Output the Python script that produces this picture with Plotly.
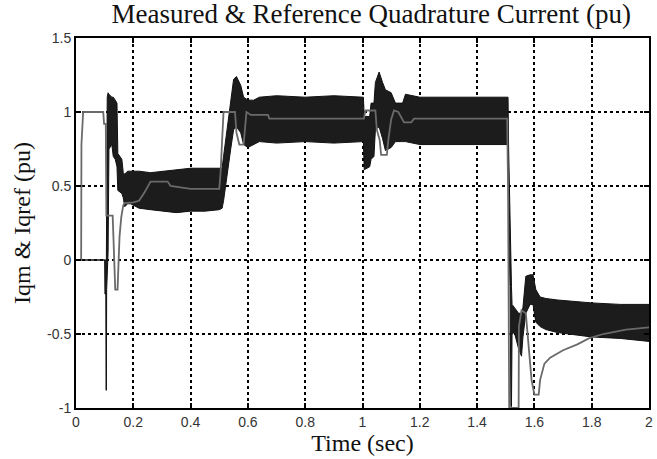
import plotly.graph_objects as go

# Measured quadrature current (Iqm): fast oscillation drawn as its envelope
t_meas = [0.0, 0.100, 0.101, 0.104, 0.105, 0.106, 0.107, 0.109, 0.112, 0.115, 0.125, 0.130,
          0.137, 0.143, 0.146, 0.160, 0.165, 0.170, 0.180, 0.190, 0.220, 0.260, 0.300, 0.350,
          0.400, 0.450, 0.500, 0.510, 0.515, 0.525, 0.540, 0.550, 0.560, 0.575, 0.585, 0.600,
          0.620, 0.640, 0.700, 0.800, 0.900, 1.003, 1.006, 1.025, 1.030, 1.040, 1.045, 1.058,
          1.070, 1.080, 1.100, 1.115, 1.140, 1.150, 1.200, 1.300, 1.400, 1.508, 1.510, 1.515,
          1.518, 1.520, 1.522, 1.530, 1.545, 1.555, 1.560, 1.570, 1.585, 1.595, 1.605, 1.620,
          1.640, 1.680, 1.800, 1.900, 2.0]
iqm_upper = [0.0, 0.0, 0.0, 0.0, 0.0, 0.0, 0.40, 1.10, 1.13, 1.12, 1.10, 1.10,
             1.08, 1.06, 0.72, 0.68, 0.59, 0.58, 0.60, 0.60, 0.60, 0.59, 0.60, 0.61,
             0.62, 0.62, 0.62, 0.62, 0.70, 0.85, 1.10, 1.22, 1.24, 1.18, 1.10, 1.08,
             1.08, 1.10, 1.11, 1.10, 1.11, 1.10, 0.97, 0.97, 1.06, 1.06, 1.20, 1.27,
             1.20, 1.15, 1.13, 1.06, 1.06, 1.12, 1.10, 1.10, 1.10, 1.10, 0.76, 0.25,
             -0.18, -0.18, -0.30, -0.32, -0.36, -0.36, -0.32, -0.11, -0.10, -0.10, -0.20, -0.25,
             -0.26, -0.27, -0.29, -0.30, -0.30]
iqm_lower = [0.0, 0.0, -0.23, -0.23, -0.88, -0.88, -0.20, 0.0, 0.05, 0.75, 0.78, 0.70,
             0.68, 0.63, 0.47, 0.45, 0.42, 0.36, 0.38, 0.38, 0.35, 0.34, 0.33, 0.32,
             0.33, 0.33, 0.34, 0.35, 0.40, 0.55, 0.75, 0.88, 0.90, 0.86, 0.78, 0.76,
             0.78, 0.80, 0.79, 0.80, 0.79, 0.80, 0.61, 0.63, 0.68, 0.70, 0.88, 0.90,
             0.82, 0.74, 0.76, 0.80, 0.80, 0.80, 0.78, 0.78, 0.78, 0.78, 0.25, -0.18,
             -0.99, -0.99, -0.50, -0.49, -0.60, -0.65, -0.52, -0.36, -0.30, -0.30, -0.42, -0.45,
             -0.47, -0.49, -0.52, -0.53, -0.55]

# Reference quadrature current (Iqref)
t_ref = [0.0, 0.018, 0.019, 0.025, 0.095, 0.098, 0.104, 0.106, 0.128, 0.130, 0.134, 0.137,
         0.145, 0.148, 0.152, 0.158, 0.165, 0.170, 0.200, 0.220, 0.240, 0.260, 0.320, 0.330,
         0.370, 0.400, 0.500, 0.505, 0.510, 0.515, 0.555, 0.560, 0.570, 0.585, 0.595, 0.610,
         0.670, 0.675, 1.005, 1.010, 1.045, 1.050, 1.060, 1.065, 1.085, 1.090, 1.100, 1.110,
         1.125, 1.145, 1.170, 1.180, 1.505, 1.508, 1.512, 1.545, 1.546, 1.555, 1.570, 1.580,
         1.590, 1.600, 1.615, 1.620, 1.635, 1.655, 1.700, 1.750, 1.790, 1.840, 1.920, 2.0]
iq_ref = [0.0, 0.0, 0.78, 1.0, 1.0, 0.92, 0.92, 0.30, 0.30, 0.18, -0.16, -0.20,
          -0.20, -0.02, 0.16, 0.29, 0.37, 0.385, 0.39, 0.40, 0.46, 0.53, 0.53, 0.50,
          0.49, 0.48, 0.48, 0.60, 0.81, 1.0, 1.0, 0.86, 0.78, 0.78, 1.0, 0.98,
          0.98, 0.955, 0.955, 1.01, 1.01, 0.88, 0.81, 0.71, 0.71, 0.81, 0.95, 1.01,
          1.0, 0.93, 0.93, 0.955, 0.955, 0.50, -1.0, -1.0, -0.45, -0.34, -0.36, -0.60,
          -0.81, -0.91, -0.91, -0.81, -0.70, -0.66, -0.61, -0.57, -0.53, -0.50, -0.47, -0.455]

x_ticks = [0, 0.2, 0.4, 0.6, 0.8, 1.0, 1.2, 1.4, 1.6, 1.8, 2.0]
x_tick_labels = ["0", "0.2", "0.4", "0.6", "0.8", "1", "1.2", "1.4", "1.6", "1.8", "2"]
y_ticks = [-1, -0.5, 0, 0.5, 1, 1.5]
y_tick_labels = ["-1", "-0.5", "0", "0.5", "1", "1.5"]

fig = go.Figure()
fig.add_trace(go.Scatter(x=t_meas, y=iqm_lower, mode="lines",
                         line=dict(color="#111111", width=1), showlegend=False, name="Iqm"))
fig.add_trace(go.Scatter(x=t_meas, y=iqm_upper, mode="lines", fill="tonexty",
                         fillcolor="#1c1c1c",
                         line=dict(color="#111111", width=1), showlegend=False, name="Iqm"))
fig.add_trace(go.Scatter(x=t_ref, y=iq_ref, mode="lines",
                         line=dict(color="#6a6a6a", width=1.8), showlegend=False, name="Iqref"))

axis_common = dict(showline=True, linecolor="black", linewidth=2, mirror="ticks",
                   ticks="inside", ticklen=5, tickcolor="black", tickwidth=1.5,
                   showgrid=True, gridcolor="black", griddash="dot", gridwidth=1.5,
                   zeroline=False,
                   tickfont=dict(family="Liberation Sans, Arial", size=14, color="#333333"))

fig.update_layout(
    width=657, height=459,
    margin=dict(l=76, r=4, t=38, b=51),
    paper_bgcolor="white", plot_bgcolor="white",
    title=dict(text="Measured &amp; Reference Quadrature Current (pu)",
               font=dict(family="Liberation Serif, Times New Roman", size=27, color="#111111"),
               x=0.565, xanchor="center", y=0.97, yanchor="middle"),
    xaxis=dict(range=[0, 2], tickvals=x_ticks, ticktext=x_tick_labels,
               title=dict(text="Time (sec)", standoff=3,
                          font=dict(family="Liberation Serif, Times New Roman", size=24, color="#111111")),
               **axis_common),
    yaxis=dict(range=[-1, 1.5], tickvals=y_ticks, ticktext=y_tick_labels,
               title=dict(text="Iqm &amp; Iqref (pu)", standoff=10,
                          font=dict(family="Liberation Serif, Times New Roman", size=24, color="#111111")),
               **axis_common),
)

fig.write_html("out.html")
